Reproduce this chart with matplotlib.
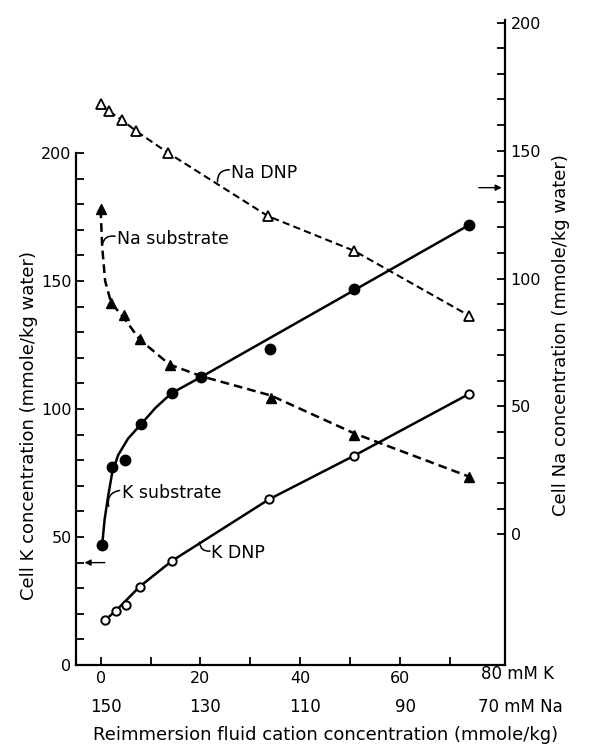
import matplotlib
matplotlib.use("Agg")
import matplotlib.pyplot as plt

plt.rcParams['font.family'] = ['DejaVu Sans']

# K substrate (filled circles, left axis)
k_sub_x = [0.3, 2.3, 4.9, 8.1, 14.2, 20.2, 33.9, 50.8, 73.8]
k_sub_y = [47, 77.5, 80.1, 94.1, 106.4, 112.6, 123.3, 146.8, 171.9]
# fitted curve drawn through the K substrate points
k_sub_fit_x = [0.3, 0.8, 1.5, 2.3, 3.5, 5.5, 8.1, 11.0, 14.2, 20.2, 73.8]
k_sub_fit_y = [47, 57, 66, 75, 82, 88.5, 94.1, 100.5, 106.2, 112.6, 171.9]

# K DNP (open circles, left axis)
k_dnp_x = [0.9, 3.0, 5.1, 7.8, 14.3, 33.7, 50.8, 73.8]
k_dnp_y = [17.6, 21.1, 23.4, 30.6, 40.7, 64.7, 81.8, 105.9]
k_dnp_fit_x = [0.9, 3.0, 7.8, 14.3, 33.7, 50.8, 73.8]
k_dnp_fit_y = [17.6, 21.1, 30.6, 40.7, 64.7, 81.8, 105.9]

# Na substrate (filled triangles, right axis)
na_sub_x = [0, 2.1, 4.7, 7.8, 13.8, 34.1, 50.8, 73.8]
na_sub_y = [127, 90.5, 85.9, 76.2, 66.4, 53.4, 39.0, 22.6]
na_sub_fit_x = [0, 0.3, 0.9, 2.1, 4.7, 7.8, 13.8, 20.2, 34.1, 50.8, 73.8]
na_sub_fit_y = [127, 112.5, 99, 90.5, 84.5, 76.2, 66.4, 61.8, 54.3, 39.5, 22.6]

# Na DNP (open triangles, right axis)
na_dnp_x = [0, 1.6, 4.3, 7.1, 13.5, 33.5, 50.8, 73.8]
na_dnp_y = [168.3, 165.4, 161.9, 157.6, 149.1, 124.4, 110.8, 85.5]

k_ticks = [0, 20, 40, 60]
na_ticks = [150, 130, 110, 90]

fig = plt.figure(figsize=(5.94, 7.47), dpi=100)
ax = fig.add_axes([75.7 / 594, 82 / 747, (505 - 75.7) / 594, (665 - 20) / 747])
ax.set_xlim(-5, 81)
ax.set_ylim(0, 252)
ax2 = ax.twinx()
ax2.set_ylim(-51, 201)

for s in ['top', 'right']:
    ax.spines[s].set_visible(False)
for s in ['top', 'left', 'bottom']:
    ax2.spines[s].set_visible(False)
ax.spines['left'].set_bounds(0, 200)
for sp in [ax.spines['left'], ax.spines['bottom'], ax2.spines['right']]:
    sp.set_linewidth(1.6)

# ticks
ax.set_yticks(range(0, 201, 10))
ax.set_yticklabels([str(v) if v % 50 == 0 else '' for v in range(0, 201, 10)])
ax2.set_yticks(range(0, 201, 10))
ax2.set_yticklabels([str(v) if v % 50 == 0 else '' for v in range(0, 201, 10)])
ax.set_xticks(range(0, 71, 10))
ax.set_xticklabels([str(v) if v in k_ticks else '' for v in range(0, 71, 10)])
ax.tick_params(direction='in', length=6, width=1.3, labelsize=11.5, pad=3)
ax2.tick_params(direction='in', length=6, width=1.3, labelsize=11.5, pad=4)
ax.tick_params(axis='x', pad=4)

# curves
ax.plot(k_sub_fit_x, k_sub_fit_y, color='black', lw=1.8, zorder=2)
ax.plot(k_sub_x, k_sub_y, 'o', color='black', ms=7.5, zorder=3)
ax.plot(k_dnp_fit_x, k_dnp_fit_y, color='black', lw=1.8, zorder=2)
ax.plot(k_dnp_x, k_dnp_y, 'o', mfc='white', mec='black', mew=1.4, ms=6, zorder=3)
ax2.plot(na_sub_fit_x, na_sub_fit_y, color='black', lw=1.8, ls=(0, (3.5, 2)), zorder=2)
ax2.plot(na_sub_x, na_sub_y, '^', color='black', ms=7.5, zorder=3)
ax2.plot(na_dnp_x, na_dnp_y, color='black', lw=1.5, ls=(0, (3.5, 2)), zorder=2)
ax2.plot(na_dnp_x, na_dnp_y, '^', mfc='white', mec='black', mew=1.3, ms=6.5, zorder=3)


# curve labels with small hooked leaders
def label(text, line_pt, text_pt, hook_pt, rad):
    ax.text(text_pt[0], text_pt[1], text, fontsize=12.5, va='center', ha='left')
    ax.annotate('', xy=line_pt, xytext=hook_pt,
                arrowprops=dict(arrowstyle='-', lw=1.1, color='black',
                                shrinkA=0, shrinkB=0,
                                connectionstyle='arc3,rad=%s' % rad))


label('Na DNP', (23.4, 188.8), (26.2, 192.2), (25.8, 193.5), 0.5)
label('Na substrate', (0.3, 164), (3.2, 166.4), (2.9, 167.5), 0.5)
label('K substrate', (1.6, 62), (4.2, 67.2), (3.8, 68.2), 0.5)
label('K DNP', (19.8, 48), (22.2, 43.7), (21.9, 44.5), -0.5)

# reference arrows
ax.annotate('', xy=(-3.8, 40), xytext=(1.4, 40),
            arrowprops=dict(arrowstyle='-|>', lw=1.0, color='black', mutation_scale=9),
            annotation_clip=False)
ax2.annotate('', xy=(80.9, 135.5), xytext=(75.2, 135.5),
             arrowprops=dict(arrowstyle='-|>', lw=1.0, color='black', mutation_scale=9),
             annotation_clip=False)

# bottom texts
ax.text(76.1, -3.6, '80 mM K', fontsize=12, ha='left', va='center', clip_on=False)
for k, na in zip(k_ticks, na_ticks):
    ax.text(k + 1, -16.4, str(na), fontsize=12, ha='center', va='center', clip_on=False)
ax.text(75.6, -16.4, '70 mM Na', fontsize=12, ha='left', va='center', clip_on=False)
ax.text(45.1, -27.5, 'Reimmersion fluid cation concentration (mmole/kg)',
        fontsize=13, ha='center', va='center', clip_on=False)

fig.text(29 / 594, 1 - 425 / 747, 'Cell K concentration (mmole/kg water)',
         rotation=90, fontsize=13, ha='center', va='center')
fig.text(561 / 594, 1 - 335 / 747, 'Cell Na concentration (mmole/kg water)',
         rotation=90, fontsize=13, ha='center', va='center')

fig.savefig('out.png', dpi=100)
